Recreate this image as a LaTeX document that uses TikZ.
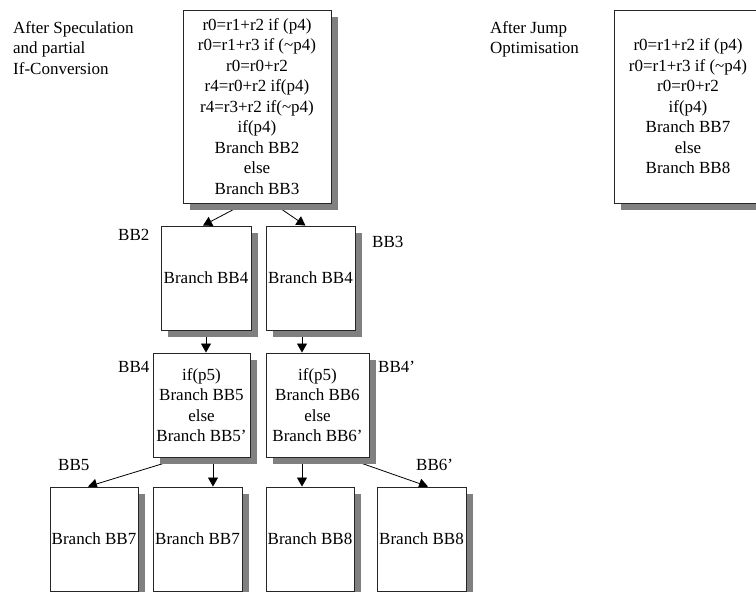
\documentclass[tikz,border=0pt]{standalone}
\usepackage{fontspec}
\setmainfont{Liberation Serif}
\usetikzlibrary{arrows.meta,shadows,backgrounds}

\tikzset{
  block/.style={draw=black!85, line width=0.9pt, fill=white, inner sep=0pt,
    align=center, font=\fontsize{17pt}{20.5pt}\selectfont,
    drop shadow={shadow xshift=7pt, shadow yshift=-7pt, fill=black!50, opacity=1}},
  tag/.style={inner sep=0pt, font=\fontsize{17pt}{20.5pt}\selectfont},
  flow/.style={line width=0.8pt, -{Triangle[length=9pt,width=10pt]}}
}

\begin{document}
\begin{tikzpicture}[x=1pt, y=-1pt]
\path[use as bounding box, clip] (0,0) rectangle (756,592);

% captions
\node[tag, align=left, anchor=north west] (cap1) at (13,21)
  {After Speculation\\and partial\\If-Conversion};
\node[tag, align=left, anchor=north west] (cap2) at (490,21)
  {After Jump\\Optimisation};

% blocks
\node[block, minimum width=148pt, minimum height=193pt] (top) at (257,106.5)
  {r0=r1+r2 if (p4)\\r0=r1+r3 if (\textasciitilde p4)\\r0=r0+r2\\r4=r0+r2 if(p4)\\r4=r3+r2 if(\textasciitilde p4)\\if(p4)\\Branch BB2\\else\\Branch BB3};
\node[block, minimum width=148pt, minimum height=193pt] (opt) at (688,106.5)
  {r0=r1+r2 if (p4)\\r0=r1+r3 if (\textasciitilde p4)\\r0=r0+r2\\if(p4)\\Branch BB7\\else\\Branch BB8};

\node[block, minimum width=90pt, minimum height=104pt] (bb2) at (206,278) {Branch BB4};
\node[block, minimum width=89pt, minimum height=104pt] (bb3) at (310.5,278) {Branch BB4};

\node[block, minimum width=97pt, minimum height=104pt] (bb4) at (201.5,405)
  {if(p5)\\Branch BB5\\else\\Branch BB5'};
\node[block, minimum width=103pt, minimum height=104pt] (bb4p) at (317.5,405)
  {if(p5)\\Branch BB6\\else\\Branch BB6'};

\node[block, minimum width=88pt, minimum height=104pt] (bb5) at (94,539) {Branch BB7};
\node[block, minimum width=89pt, minimum height=104pt] (bb5p) at (197.5,539) {Branch BB7};
\node[block, minimum width=88pt, minimum height=104pt] (bb6) at (310,539) {Branch BB8};
\node[block, minimum width=89pt, minimum height=104pt] (bb6p) at (421.5,539) {Branch BB8};

% block labels
\node[tag, anchor=west] (l2) at (118,235) {BB2};
\node[tag, anchor=west] (l3) at (372,242) {BB3};
\node[tag, anchor=west] (l4) at (118,367) {BB4};
\node[tag, anchor=west] (l4p) at (378,367) {BB4'};
\node[tag, anchor=west] (l5) at (58,465) {BB5};
\node[tag, anchor=west] (l6p) at (416,465) {BB6'};

% control flow edges, behind the shadows
\begin{pgfonlayer}{background}
\draw[flow] ([xshift=-12pt]top.south) -- ([xshift=-3pt]bb2.north);
\draw[flow] ([xshift=16pt]top.south) -- ([xshift=-5pt]bb3.north);
\draw[flow] (bb2.south) -- ([xshift=4.5pt]bb4.north);
\draw[flow] ([xshift=-8.5pt]bb3.south) -- ([xshift=-15.5pt]bb4p.north);
\draw[flow] ([xshift=-18.5pt]bb4.south) -- ([xshift=-6pt]bb5.north);
\draw[flow] ([xshift=11.5pt]bb4.south) -- ([xshift=15.5pt]bb5p.north);
\draw[flow] ([xshift=-15.5pt]bb4p.south) -- ([xshift=-8pt]bb6.north);
\draw[flow] ([xshift=27.5pt]bb4p.south) -- ([xshift=6.5pt]bb6p.north);
\end{pgfonlayer}
\end{tikzpicture}
\end{document}
